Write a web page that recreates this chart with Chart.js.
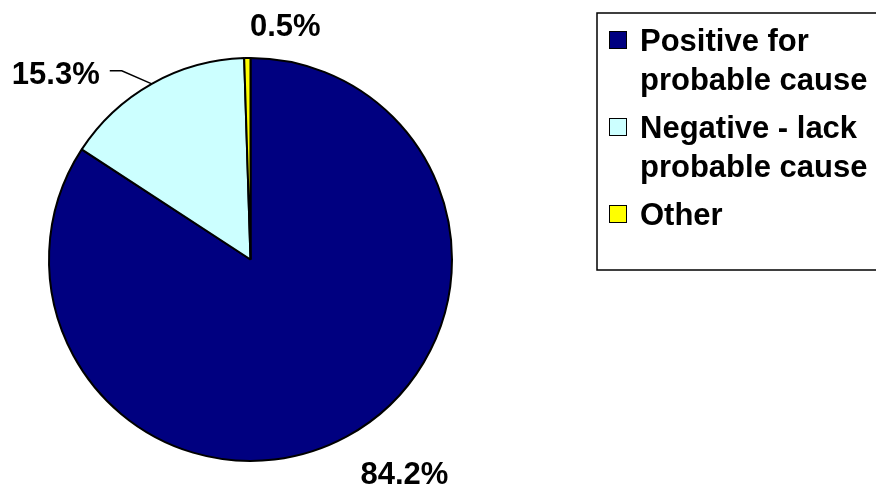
<!DOCTYPE html>
<html>
<head>
<meta charset="utf-8">
<script src="https://cdn.jsdelivr.net/npm/chart.js@4.4.0/dist/chart.umd.min.js"></script>
<style>
  html, body { margin: 0; padding: 0; background: #ffffff; }
  #chart-pie { display: block; }
</style>
</head>
<body>
<canvas id="chart-pie" width="876" height="487"></canvas>
<script>
// Probable cause findings - pie chart

const categories = [
  ["Positive for", "probable cause"],
  ["Negative - lack", "probable cause"],
  ["Other"],
];
const shares = [84.2, 15.3, 0.5];
const shareLabels = ["84.2%", "15.3%", "0.5%"];
const sliceColors = ["#000080", "#CCFFFF", "#FFFF00"];

const FONT = '"Liberation Sans", Arial, sans-serif';

// Data labels placed from each arc's outer edge at its mid angle
const sliceLabels = {
  id: "sliceLabels",
  afterDatasetsDraw(chart, args, opts) {
    const ctx = chart.ctx;
    const arcs = chart.getDatasetMeta(0).data;
    ctx.save();
    ctx.font = "bold 31px " + FONT;
    ctx.fillStyle = "#000";
    ctx.textBaseline = "alphabetic";
    arcs.forEach((arc, i) => {
      const p = arc.getProps(["x", "y", "startAngle", "endAngle", "outerRadius"], true);
      const mid = (p.startAngle + p.endAngle) / 2;
      const ex = p.x + Math.cos(mid) * p.outerRadius;
      const ey = p.y + Math.sin(mid) * p.outerRadius;
      const o = opts.offsets[i];
      if (o.leader) {
        ctx.strokeStyle = "#000";
        ctx.lineWidth = 1.5;
        ctx.beginPath();
        ctx.moveTo(ex, ey);
        ctx.lineTo(ex + o.leader[0][0], ey + o.leader[0][1]);
        ctx.lineTo(ex + o.leader[1][0], ey + o.leader[1][1]);
        ctx.stroke();
      }
      ctx.textAlign = o.align;
      ctx.fillText(shareLabels[i], ex + o.dx, ey + o.dy);
    });
    ctx.restore();
  },
};

// Boxed legend with wrapped entries
const boxLegend = {
  id: "boxLegend",
  afterDraw(chart, args, opts) {
    const ctx = chart.ctx;
    ctx.save();
    ctx.strokeStyle = "#000";
    ctx.lineWidth = 1.5;
    ctx.strokeRect(opts.left, opts.top, opts.width, opts.height);
    ctx.font = "bold 31px " + FONT;
    ctx.textAlign = "left";
    ctx.textBaseline = "alphabetic";
    let y = opts.firstBaseline;
    categories.forEach((lines, i) => {
      ctx.fillStyle = sliceColors[i];
      ctx.fillRect(opts.markerX, y - 20, 18, 18);
      ctx.lineWidth = 1;
      ctx.strokeStyle = "#000";
      ctx.strokeRect(opts.markerX + 0.5, y - 19.5, 17, 17);
      ctx.fillStyle = "#000";
      lines.forEach((line, j) => {
        ctx.fillText(line, opts.textX, y);
        if (j < lines.length - 1) y += opts.lineHeight;
      });
      y += opts.itemGap;
    });
    ctx.restore();
  },
};

const ctx = document.getElementById("chart-pie").getContext("2d");

new Chart(ctx, {
  type: "pie",
  data: {
    labels: categories.map((c) => c.join(" ")),
    datasets: [
      {
        data: shares,
        backgroundColor: sliceColors,
        borderColor: "#000000",
        borderWidth: 2,
      },
    ],
  },
  options: {
    responsive: false,
    animation: false,
    events: [],
    layout: {
      padding: { left: 48, top: 57, right: 423, bottom: 25 },
    },
    plugins: {
      legend: { display: false },
      tooltip: { enabled: false },
      sliceLabels: {
        offsets: [
          { dx: 58, dy: 47, align: "center" },
          { dx: -52, dy: 0, align: "right", leader: [[-30, -13], [-42, -13]] },
          { dx: 38, dy: -22, align: "center" },
        ],
      },
      boxLegend: {
        left: 597,
        top: 13,
        width: 300,
        height: 257,
        markerX: 609,
        textX: 640,
        firstBaseline: 51,
        lineHeight: 39,
        itemGap: 48,
      },
    },
  },
  plugins: [sliceLabels, boxLegend],
});
</script>
</body>
</html>
